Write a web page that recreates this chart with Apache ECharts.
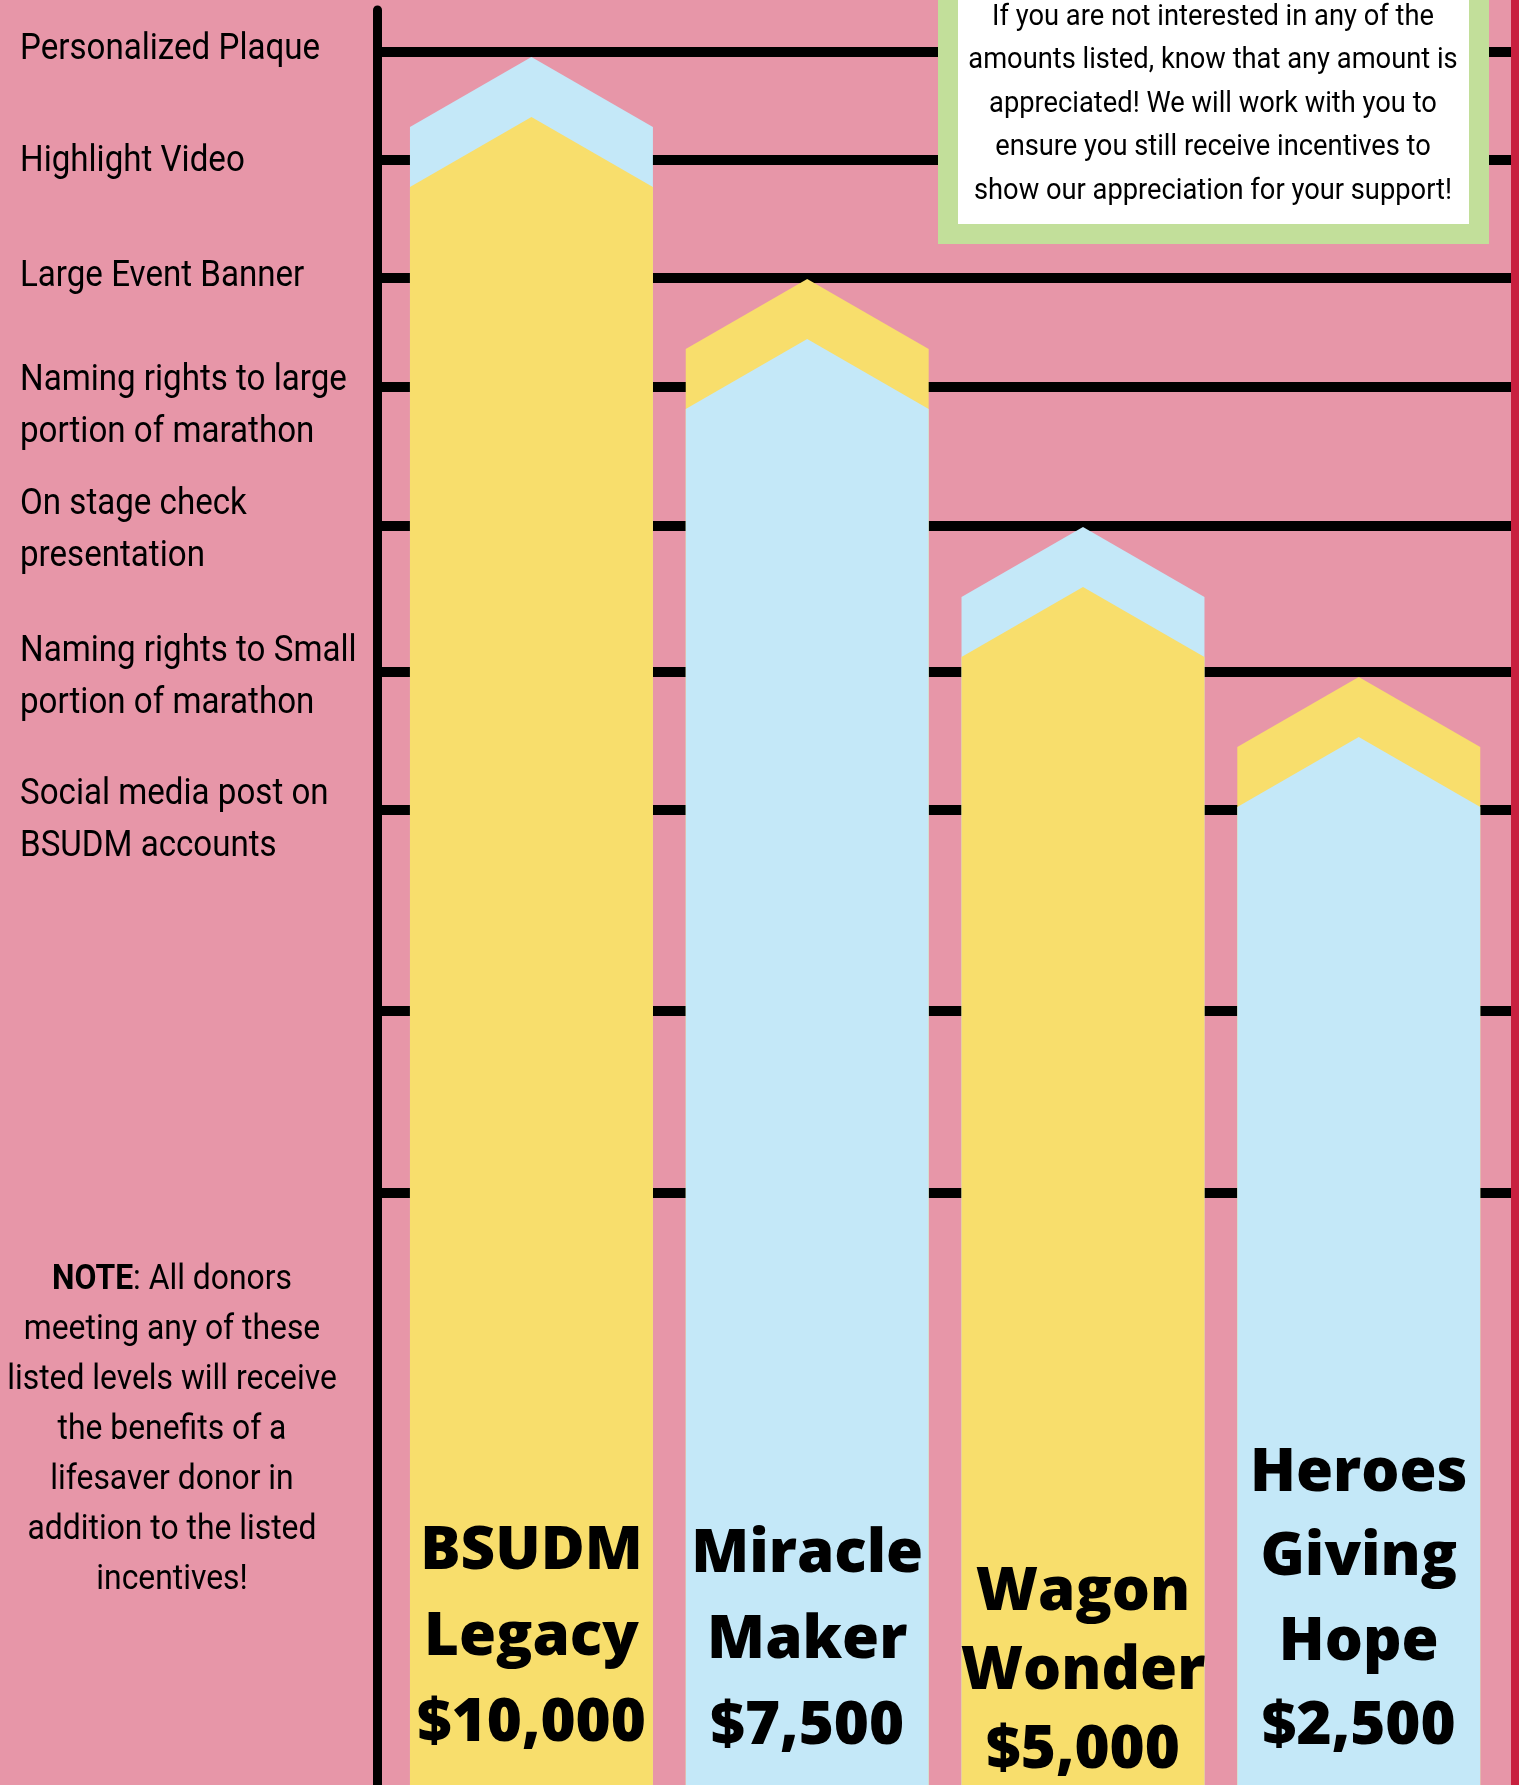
<!DOCTYPE html>
<html>
<head>
<meta charset="utf-8">
<script src="https://cdn.jsdelivr.net/npm/echarts@6/dist/echarts.min.js"></script>
<style>
html,body{margin:0;padding:0;background:#E796A8;}
#chart{width:1519px;height:1785px;}
</style>
</head>
<body>
<div id="chart"></div>
<script>
// ---------------- DATA ----------------
const tierNames = ['BSUDM\nLegacy', 'Miracle\nMaker', 'Wagon\nWonder', 'Heroes\nGiving\nHope'];
const tierAmounts = [10000, 7500, 5000, 2500];
// peak of each tier on the incentive-level scale (0 = bottom, 100 = top of axis)
const tierTopLevels = [97.35, 84.85, 70.87, 62.42];

const incentiveLabels = [
  'Personalized Plaque',
  'Highlight Video',
  'Large Event Banner',
  'Naming rights to large\nportion of marathon',
  'On stage check\npresentation',
  'Naming rights to Small\nportion of marathon',
  'Social media post on\nBSUDM accounts'
];
const incentiveLabelLevels = [97.75, 91.44, 84.96, 77.66, 70.65, 62.37, 54.31];
const gridLevels = [97.66, 91.58, 84.90, 78.76, 70.93, 62.70, 54.93, 43.63, 33.38];

const boxLines = [
  'If you are not interested in any of the',
  'amounts listed, know that any amount is',
  'appreciated! We will work with you to',
  'ensure you still receive incentives to',
  'show our appreciation for your support!'
];
const noteLines = [
  '{b|NOTE}: All donors',
  'meeting any of these',
  'listed levels will receive',
  'the benefits of a',
  'lifesaver donor in',
  'addition to the listed',
  'incentives!'
];

// ---------------- STYLE ----------------
const PINK = '#E796A8', YELLOW = '#F8DE6C', BLUE = '#C4E8F8', GREEN = '#C2DF9A', RED = '#C8203F';
const bodyColors = [YELLOW, BLUE, YELLOW, BLUE];
const capColors = [BLUE, YELLOW, BLUE, YELLOW];
const labelLineHeights = [86, 86, 79, 84.5];
const labelLastLineFromBottom = [61, 58, 34, 58];
const BAR_W = 0.881, ROOF = 70, CAP = 60;
const CONDENSE = 0.91;

function renderBar(params, api) {
  const idx = params.dataIndex;
  const i = api.value(0), top = api.value(1);
  const peak = api.coord([i, top]);
  const base = api.coord([i, 0]);
  const w = api.size([BAR_W, 0])[0];
  const cx = peak[0], xl = cx - w / 2, xr = cx + w / 2, by = base[1];
  const pent = (py) => [[xl, by], [xl, py + ROOF], [cx, py], [xr, py + ROOF], [xr, by]];
  const L = labelLineHeights[idx];
  const txt = tierNames[idx] + '\n$' + tierAmounts[idx].toLocaleString('en-US');
  return {
    type: 'group',
    children: [
      { type: 'polygon', shape: { points: pent(peak[1]) }, style: { fill: capColors[idx] } },
      { type: 'polygon', shape: { points: pent(peak[1] + CAP) }, style: { fill: bodyColors[idx] } },
      {
        type: 'text', x: cx, y: by - labelLastLineFromBottom[idx] + L / 2,
        style: {
          text: txt, fontSize: 60, fontWeight: 800, fontFamily: "'Open Sans', sans-serif",
          fill: '#000', align: 'center', verticalAlign: 'bottom',
          textAlign: 'center', textVerticalAlign: 'bottom', lineHeight: L
        }
      }
    ]
  };
}

function renderLabel(params, api) {
  const p = api.coord([0, api.value(1)]);
  return {
    type: 'text', x: params.coordSys.x - 357, y: p[1], scaleX: 0.92,
    style: {
      text: incentiveLabels[params.dataIndex], fontSize: 36, fontFamily: 'Roboto',
      fill: '#000', align: 'left', verticalAlign: 'middle',
      textAlign: 'left', textVerticalAlign: 'middle', lineHeight: 52
    }
  };
}

const chart = echarts.init(document.getElementById('chart'), null, { renderer: 'canvas' });
chart.setOption({
  backgroundColor: PINK,
  animation: false,
  grid: { left: 377, right: 8, top: 10, bottom: 0 },
  xAxis: { type: 'value', min: -0.56, max: 3.552, show: false },
  yAxis: {
    type: 'value', min: 0, max: 100,
    axisLine: { show: true, onZero: false, lineStyle: { color: '#000', width: 9 } },
    axisTick: { show: false }, axisLabel: { show: false }, splitLine: { show: false }
  },
  series: [
    {
      type: 'line', data: [], z: 1, silent: true,
      markLine: {
        silent: true, symbol: ['none', 'none'], label: { show: false }, animation: false,
        lineStyle: { color: '#000', width: 10, type: 'solid', opacity: 1 },
        emphasis: { disabled: true },
        data: gridLevels.map(v => ({ yAxis: v }))
      }
    },
    {
      type: 'custom', z: 10, clip: false, silent: true,
      data: tierTopLevels.map((v, i) => [i, v]),
      renderItem: renderBar
    },
    {
      type: 'custom', z: 10, clip: false, silent: true,
      data: incentiveLabelLevels.map(v => [0, v]),
      renderItem: renderLabel
    }
  ],
  graphic: [
    { type: 'rect', z: 50, shape: { x: 938, y: -30, width: 551, height: 274 }, style: { fill: GREEN } },
    { type: 'rect', z: 51, shape: { x: 958, y: -30, width: 511, height: 254 }, style: { fill: '#FFFFFF' } },
    {
      type: 'text', z: 52, x: 1213, y: 104, scaleX: CONDENSE,
      style: {
        text: boxLines.join('\n'), fontSize: 30, fontFamily: 'Roboto', fill: '#000',
        align: 'center', verticalAlign: 'middle', textAlign: 'center', textVerticalAlign: 'middle',
        lineHeight: 43.5
      }
    },
    {
      type: 'text', z: 52, x: 172, y: 1430.5, scaleX: CONDENSE,
      style: {
        text: noteLines.join('\n'), fontSize: 35, fontFamily: 'Roboto', fill: '#000',
        align: 'center', verticalAlign: 'middle', textAlign: 'center', textVerticalAlign: 'middle',
        lineHeight: 50,
        rich: { b: { fontSize: 35, fontFamily: 'Roboto', fontWeight: 'bold', fill: '#000', lineHeight: 50 } }
      }
    },
    { type: 'rect', z: 52, shape: { x: 1511, y: 0, width: 8, height: 1785 }, style: { fill: RED } }
  ]
});
</script>
</body>
</html>
